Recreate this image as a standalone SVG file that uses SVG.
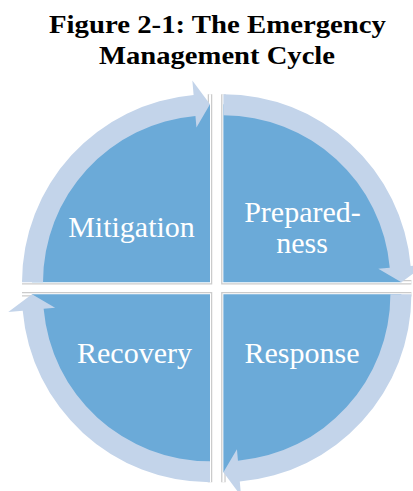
<svg xmlns="http://www.w3.org/2000/svg" width="413" height="491" viewBox="0 0 413 491">
<style>
.title{font-family:"Liberation Serif","Times New Roman",serif;font-weight:bold;font-size:26px;fill:#000;text-anchor:middle}
.lbl{font-family:"Liberation Serif","Times New Roman",serif;font-size:30px;fill:#fff;text-anchor:middle}
.pie{fill:#6BAAD8}
.edgeG{fill:none;stroke:#CBCBCB;stroke-width:4.5}
.edgeW{fill:none;stroke:#fff;stroke-width:2}
.ring{fill:#C3D4EA}
</style>
<rect width="413" height="491" fill="#fff"/>
<g id="title">
<text class="title" x="217.5" y="32.5" textLength="337" lengthAdjust="spacingAndGlyphs">Figure 2-1: The Emergency</text>
<text class="title" x="217" y="63.5" textLength="236" lengthAdjust="spacingAndGlyphs">Management Cycle</text>
</g>
<g id="mitigation">
<path class="edgeG" d="M22,282.3 H210 V94.3"/>
<path class="edgeW" d="M22,282.3 H210 V94.3"/>
<path class="pie" d="M210,282.3 L32,282.3 A178,178 0 0 1 210,104.3 Z"/>
<text class="lbl" x="131.5" y="236.7">Mitigation</text>
</g>
<g id="preparedness">
<path class="edgeG" d="M223.4,94.3 V282.3 H411.4"/>
<path class="edgeW" d="M223.4,94.3 V282.3 H411.4"/>
<path class="pie" d="M223.4,282.3 L223.4,104.3 A178,178 0 0 1 401.4,282.3 Z"/>
<text class="lbl" x="302.5" y="221.7">Prepared-</text>
<text class="lbl" x="302" y="253">ness</text>
</g>
<g id="response">
<path class="edgeG" d="M411.4,294.3 H223.4 V482.3"/>
<path class="edgeW" d="M411.4,294.3 H223.4 V482.3"/>
<path class="pie" d="M223.4,294.3 L401.4,294.3 A178,178 0 0 1 223.4,472.3 Z"/>
<text class="lbl" x="302" y="362.7">Response</text>
</g>
<g id="recovery">
<path class="edgeG" d="M210,482.3 V294.3 H22"/>
<path class="edgeW" d="M210,482.3 V294.3 H22"/>
<path class="pie" d="M210,294.3 L210,472.3 A178,178 0 0 1 32,294.3 Z"/>
<text class="lbl" x="134.5" y="362.7">Recovery</text>
</g>
<g id="connectors">
<path class="ring" d="M22,282.3 A188,188 0 0 1 193.61,95.02 L192.35,80.57 L210,104.3 L196.45,127.39 L195.44,115.94 A167,167 0 0 0 43,282.3 Z"/>
<path class="ring" d="M223.4,94.3 A188,188 0 0 1 410.68,265.91 L425.13,264.65 L401.4,282.3 L378.31,268.75 L389.76,267.74 A167,167 0 0 0 223.4,115.3 Z"/>
<path class="ring" d="M411.4,294.3 A188,188 0 0 1 239.79,481.58 L241.05,496.03 L223.4,472.3 L236.95,449.21 L237.96,460.66 A167,167 0 0 0 390.4,294.3 Z"/>
<path class="ring" d="M210,482.3 A188,188 0 0 1 22.72,310.69 L8.27,311.95 L32,294.3 L55.09,307.85 L43.64,308.86 A167,167 0 0 0 210,461.3 Z"/>
</g>
</svg>
